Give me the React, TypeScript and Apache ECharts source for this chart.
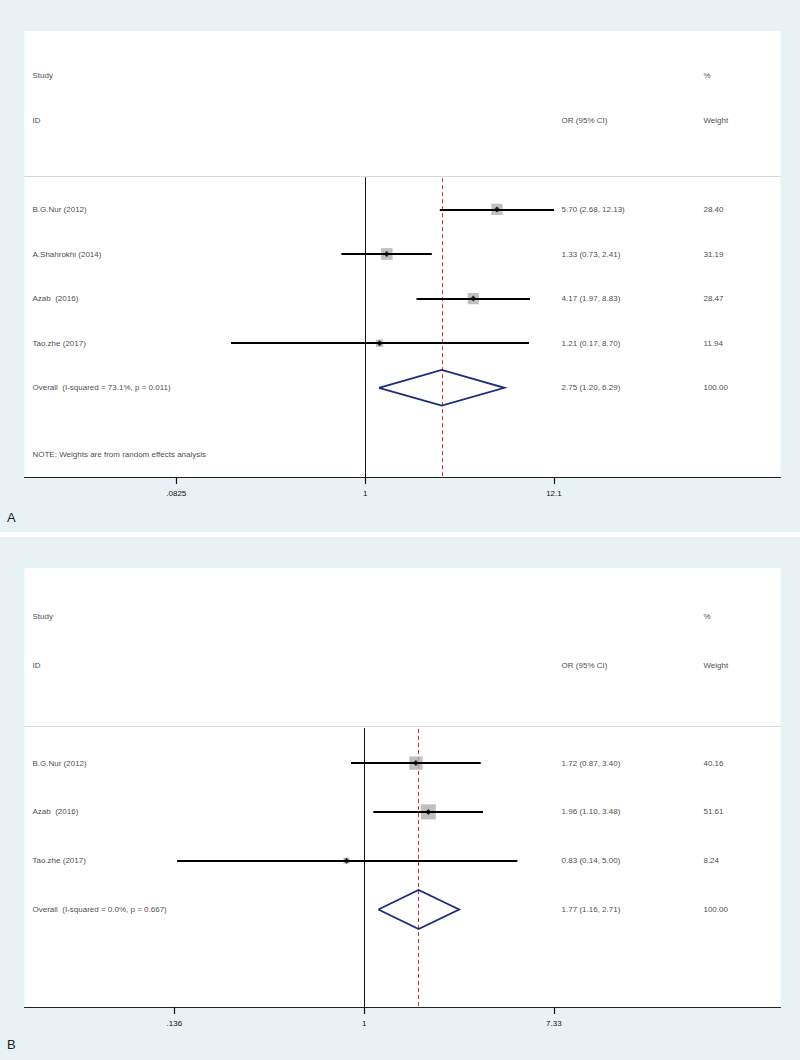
import React, { useEffect, useRef } from "react";
import * as echarts from "echarts";

// ---------- Panel A data ----------
const studiesA = ["B.G.Nur (2012)", "A.Shahrokhi (2014)", "Azab  (2016)", "Tao.zhe (2017)"];
const orA = [5.7, 1.33, 4.17, 1.21];
const lowerA = [2.68, 0.73, 1.97, 0.17];
const upperA = [12.13, 2.41, 8.83, 8.7];
const weightA = [28.4, 31.19, 28.47, 11.94];
const overallA = [2.75, 1.2, 6.29];
const overallLabelA = "Overall  (I-squared = 73.1%, p = 0.011)";
const tickValsA = [0.0825, 1, 12.1];
const tickLabelsA = [".0825", "1", "12.1"];
const noteA = "NOTE: Weights are from random effects analysis";

// ---------- Panel B data ----------
const studiesB = ["B.G.Nur (2012)", "Azab  (2016)", "Tao.zhe (2017)"];
const orB = [1.72, 1.96, 0.83];
const lowerB = [0.87, 1.1, 0.14];
const upperB = [3.4, 3.48, 5.0];
const weightB = [40.16, 51.61, 8.24];
const overallB = [1.77, 1.16, 2.71];
const overallLabelB = "Overall  (I-squared = 0.0%, p = 0.667)";
const tickValsB = [0.136, 1, 7.33];
const tickLabelsB = [".136", "1", "7.33"];

const FONT = "Liberation Sans, Arial, sans-serif";
const BG = "#e8f1f4";
const TXT = "#111";

const fmtCI = (o: number, l: number, h: number) =>
  `${o.toFixed(2)} (${l.toFixed(2)}, ${h.toFixed(2)})`;

type Panel = {
  studies: string[];
  or: number[];
  lo: number[];
  hi: number[];
  w: number[];
  overall: number[];
  overallLabel: string;
  tickVals: number[];
  tickLabels: string[];
  note?: string;
  lnMin: number;
  lnMax: number;
  yMax: number;
};

const panels: Panel[] = [
  {
    studies: studiesA, or: orA, lo: lowerA, hi: upperA, w: weightA,
    overall: overallA, overallLabel: overallLabelA,
    tickVals: tickValsA, tickLabels: tickLabelsA, note: noteA,
    lnMin: -4.5, lnMax: 5.486, yMax: 6,
  },
  {
    studies: studiesB, or: orB, lo: lowerB, hi: upperB, w: weightB,
    overall: overallB, overallLabel: overallLabelB,
    tickVals: tickValsB, tickLabels: tickLabelsB,
    lnMin: -3.569, lnMax: 4.373, yMax: 5,
  },
];

const COL_NAME = 0.0099;
const COL_CI = 0.7098;
const COL_W = 0.8974;

function buildSeries(g: number, p: Panel): any[] {
  const xi = g * 2;
  const xl = g * 2 + 1;
  const yi = g;
  const L = Math.log;
  const n = p.studies.length;
  const ovRow = n;
  const base = { xAxisIndex: xi, yAxisIndex: yi, silent: true, animation: false };
  const baseL = { xAxisIndex: xl, yAxisIndex: yi, silent: true, animation: false };

  const texts: any[] = [
    { name: "Study", value: [COL_NAME, -3] },
    { name: "%", value: [COL_W, -3] },
    { name: "ID", value: [COL_NAME, -2] },
    { name: "OR (95% CI)", value: [COL_CI, -2] },
    { name: "Weight", value: [COL_W, -2] },
  ];
  p.studies.forEach((s, i) => {
    texts.push({ name: s, value: [COL_NAME, i] });
    texts.push({ name: fmtCI(p.or[i], p.lo[i], p.hi[i]), value: [COL_CI, i] });
    texts.push({ name: p.w[i].toFixed(2), value: [COL_W, i] });
  });
  texts.push({ name: p.overallLabel, value: [COL_NAME, ovRow] });
  texts.push({ name: fmtCI(p.overall[0], p.overall[1], p.overall[2]), value: [COL_CI, ovRow] });
  texts.push({ name: "100.00", value: [COL_W, ovRow] });
  if (p.note) texts.push({ name: p.note, value: [COL_NAME, ovRow + 1.5] });

  const totalW = p.w.reduce((a, b) => a + b, 0);

  return [
    {
      ...baseL,
      type: "lines",
      coordinateSystem: "cartesian2d",
      polyline: false,
      lineStyle: { color: "#d6d9da", width: 1, opacity: 1 },
      data: [{ coords: [[0, -0.75], [1, -0.75]] }],
    },
    {
      ...base,
      type: "lines",
      coordinateSystem: "cartesian2d",
      lineStyle: { color: "#111", width: 1, opacity: 1 },
      data: [{ coords: [[0, -0.72], [0, p.yMax]] }],
    },
    {
      ...base,
      type: "lines",
      coordinateSystem: "cartesian2d",
      lineStyle: { color: "#c0392b", width: 1, type: [4, 3], opacity: 1 },
      data: [{ coords: [[L(p.overall[0]), -0.7], [L(p.overall[0]), p.yMax]] }],
    },
    {
      ...base,
      type: "scatter",
      symbol: "rect",
      itemStyle: { color: "#b0b0b0" },
      data: p.or.map((o, i) => ({
        value: [L(o), i],
        symbolSize: 2.1 * Math.sqrt(p.w[i] * (100 / totalW)),
      })),
      z: 2,
    },
    {
      ...base,
      type: "lines",
      coordinateSystem: "cartesian2d",
      lineStyle: { color: "#000", width: 2, opacity: 1 },
      data: p.or.map((_, i) => ({ coords: [[L(p.lo[i]), i], [L(p.hi[i]), i]] })),
      z: 3,
    },
    {
      ...base,
      type: "scatter",
      symbol: "diamond",
      symbolSize: [6, 6],
      itemStyle: { color: "#000" },
      data: p.or.map((o, i) => [L(o), i]),
      z: 4,
    },
    {
      ...base,
      type: "lines",
      coordinateSystem: "cartesian2d",
      polyline: true,
      lineStyle: { color: "#1c2a7c", width: 1.8, opacity: 1 },
      data: [
        {
          coords: [
            [L(p.overall[1]), ovRow],
            [L(p.overall[0]), ovRow - 0.4],
            [L(p.overall[2]), ovRow],
            [L(p.overall[0]), ovRow + 0.4],
            [L(p.overall[1]), ovRow],
          ],
        },
      ],
      z: 5,
    },
    {
      ...baseL,
      type: "scatter",
      symbolSize: 1,
      itemStyle: { color: "rgba(0,0,0,0)" },
      label: {
        show: true,
        position: "right",
        distance: 0,
        formatter: "{b}",
        fontSize: 8,
        color: TXT,
        fontFamily: FONT,
      },
      data: texts,
      z: 6,
    },
  ];
}

export default function App() {
  const ref = useRef<HTMLDivElement>(null);
  useEffect(() => {
    if (!ref.current) return;
    const chart = echarts.init(ref.current, null, { renderer: "svg" });
    const grids = [
      { left: 24.5, width: 756, top: 31, height: 446 },
      { left: 24.5, width: 756, top: 568, height: 439 },
    ];
    const xAxis: any[] = [];
    const yAxis: any[] = [];
    panels.forEach((p, g) => {
      const tv = p.tickVals.map((t) => Math.log(t));
      xAxis.push({
        gridIndex: g,
        type: "value",
        min: p.lnMin,
        max: p.lnMax,
        position: "bottom",
        splitLine: { show: false },
        axisLine: { show: true, onZero: false, lineStyle: { color: "#222", width: 1.2 } },
        axisTick: {
          show: true,
          inside: false,
          customValues: tv,
          length: 7,
          lineStyle: { color: "#111", width: 1.2 },
        },
        axisLabel: {
          show: true,
          customValues: tv,
          margin: 12,
          fontSize: 8,
          color: TXT,
          fontFamily: FONT,
          formatter: (v: number) => {
            const k = tv.findIndex((t) => Math.abs(t - v) < 1e-6);
            return k >= 0 ? p.tickLabels[k] : "";
          },
        },
      });
      xAxis.push({ gridIndex: g, type: "value", min: 0, max: 1, show: false });
      yAxis.push({
        gridIndex: g,
        type: "value",
        min: -4,
        max: p.yMax,
        inverse: true,
        show: false,
      });
    });
    const series: any[] = [];
    panels.forEach((p, g) => series.push(...buildSeries(g, p)));

    chart.setOption({
      animation: false,
      backgroundColor: BG,
      textStyle: { fontFamily: FONT },
      grid: grids.map((gr) => ({
        ...gr,
        show: true,
        backgroundColor: "#fff",
        borderWidth: 0,
        containLabel: false,
      })),
      xAxis,
      yAxis,
      series,
      graphic: [
        { type: "rect", shape: { x: 0, y: 532, width: 800, height: 5 }, style: { fill: "#fff" }, silent: true },
        {
          type: "text",
          x: 7,
          y: 511,
          style: { text: "A", fontSize: 13, fill: "#222", fontFamily: FONT },
          silent: true,
        },
        {
          type: "text",
          x: 7,
          y: 1038,
          style: { text: "B", fontSize: 13, fill: "#222", fontFamily: FONT },
          silent: true,
        },
      ],
    });
    return () => chart.dispose();
  }, []);
  return (
    <div
      ref={ref}
      style={{ position: "absolute", left: 0, top: 0, width: 800, height: 1060 }}
    />
  );
}
